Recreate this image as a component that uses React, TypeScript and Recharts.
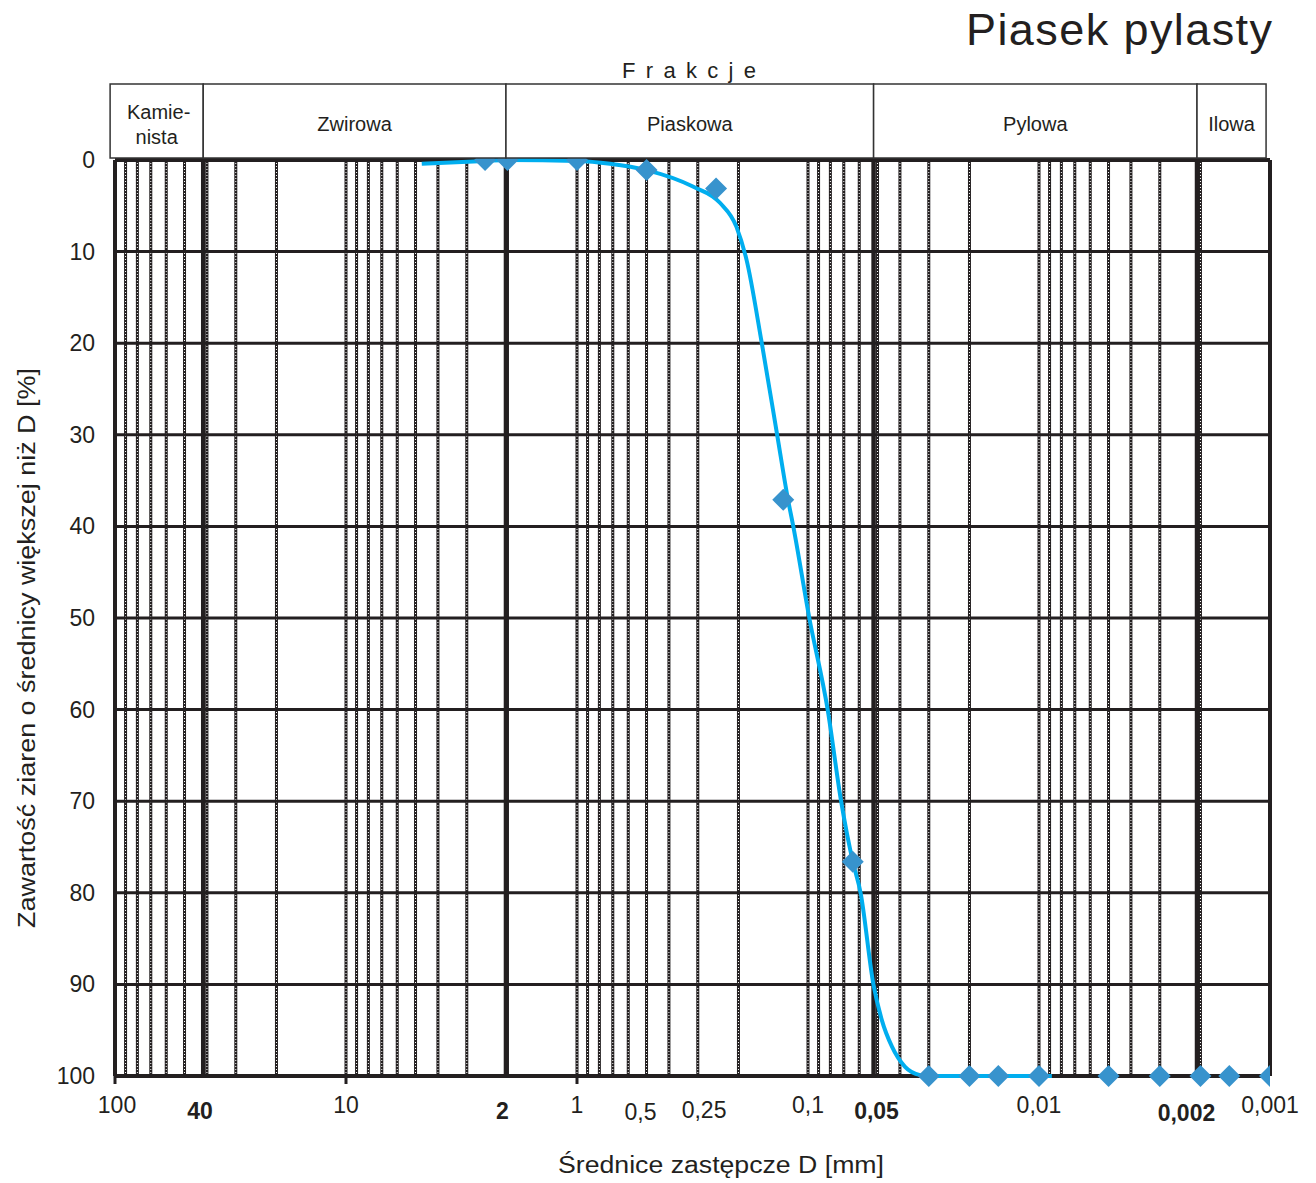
import React from "react";
import {
  ComposedChart,
  Line,
  Scatter,
  XAxis,
  YAxis,
  ReferenceLine,
} from "recharts";

// fitted grading curve (D in mm, % of grains larger than D)
const curveD = [4.7, 2.5, 2, 1, 0.72, 0.5, 0.315, 0.24, 0.204, 0.1845, 0.1585, 0.136, 0.122, 0.1158, 0.0987, 0.0822, 0.0719, 0.064, 0.0592, 0.0521, 0.0479, 0.0433, 0.038, 0.0327, 0.03, 0.0088];
const curveV = [0.4, 0.1, 0, 0.1, 0.4, 1.1, 2.9, 4.7, 7.3, 10.9, 20, 30, 37.1, 40, 50, 60, 70, 76.6, 80, 90, 93.9, 96.8, 99, 99.9, 100, 100];

// measured points (diamonds)
const pointD = [2.5, 2, 1, 0.5, 0.25, 0.128, 0.064, 0.03, 0.02, 0.015, 0.01, 0.005, 0.003, 0.002, 0.0015, 0.001];
const pointV = [0, 0, 0, 1.1, 3.1, 37.1, 76.6, 100, 100, 100, 100, 100, 100, 100, 100, 100];

const xTicks = [100, 40, 10, 2, 1, 0.5, 0.25, 0.1, 0.05, 0.01, 0.002, 0.001];
const xTickLabels = ["100", "40", "10", "2", "1", "0,5", "0,25", "0,1", "0,05", "0,01", "0,002", "0,001"];
const boldTicks = [40, 2, 0.05, 0.002];
const yTicks = [0, 10, 20, 30, 40, 50, 60, 70, 80, 90, 100];

const fractionNames = ["Kamie-|nista", "Zwirowa", "Piaskowa", "Pylowa", "Ilowa"];
const fractionEdges = [105, 41.5, 2.03, 0.052, 0.00207, 0.00104];

const curve = curveD.map((d, i) => ({ d, v: curveV[i] }));
const points = pointD.map((d, i) => ({ d, v: pointV[i] }));

// log grid: 1..9 in every decade between the borders
const gridD: number[] = [];
[-3, -2, -1, 0, 1].forEach((k) => {
  for (let m = 1; m <= 9; m++) {
    const d = +(m * Math.pow(10, k)).toPrecision(6);
    if (d > 0.001 && d < 100) gridD.push(d);
  }
});

const INK = "#231f20";
const FONT = "'Liberation Sans', Arial, Helvetica, sans-serif";
const W = 1300;
const H = 1175;
const PLOT_LEFT = 107;
const PLOT_TOP = 152;
const PLOT_W = 1155;
const PLOT_H = 916;

// label nudges: [dx, baseline offset below the axis]
const tickShift: Record<string, [number, number]> = {
  "100": [2, 37],
  "40": [-7, 43],
  "10": [0, 37],
  "2": [-5, 43],
  "1": [0, 37],
  "0,5": [-6, 44],
  "0,25": [-12, 42],
  "0,1": [0, 37],
  "0,05": [-1, 43],
  "0,01": [0, 37],
  "0,002": [-14, 45],
  "0,001": [0, 37],
};

const xOf = (d: number) => PLOT_LEFT + ((2 - Math.log10(d)) / 5) * PLOT_W;

function XTick({ x, y, payload }: any) {
  const i = xTicks.indexOf(payload.value);
  const label = xTickLabels[i] ?? String(payload.value);
  const bold = boldTicks.includes(payload.value);
  const [dx, dy] = tickShift[label] || [0, 37];
  const decade = [100, 10, 1].includes(payload.value);
  return (
    <g>
      {decade && <line x1={x} x2={x} y1={y} y2={y + 8} stroke={INK} strokeWidth={3} />}
      <text
        x={x + dx}
        y={y + dy}
        textAnchor="middle"
        fontSize={23}
        fontWeight={bold ? "bold" : "normal"}
        fontFamily={FONT}
        fill={INK}
      >
        {label}
      </text>
    </g>
  );
}

function YTick({ x, y, payload }: any) {
  return (
    <text
      x={x - 20}
      y={y}
      textAnchor="end"
      dominantBaseline="central"
      fontSize={23}
      fontFamily={FONT}
      fill={INK}
    >
      {payload.value}
    </text>
  );
}

function Diamond(props: any) {
  const { cx, cy } = props;
  const r = 11;
  return (
    <polygon
      points={`${cx},${cy - r} ${cx + r},${cy} ${cx},${cy + r} ${cx - r},${cy}`}
      fill="#3793cd"
    />
  );
}

function Overlay() {
  const top = 76;
  const bottom = 150;
  return (
    <svg
      width={W}
      height={H}
      style={{ position: "absolute", left: 0, top: 0, pointerEvents: "none", overflow: "visible" }}
      fontFamily={FONT}
    >
      <text x={1264} y={37} textAnchor="end" fontSize={45} fill={INK} textLength={306} lengthAdjust="spacing">
        Piasek pylasty
      </text>
      <text x={614} y={70} fontSize={22} fill={INK} textLength={134} lengthAdjust="spacing">
        F r a k c j e
      </text>
      {fractionNames.map((name, i) => {
        const x1 = xOf(fractionEdges[i]);
        const x2 = xOf(fractionEdges[i + 1]);
        const cx = (x1 + x2) / 2;
        const lines = name.split("|");
        return (
          <g key={name}>
            <rect x={x1} y={top} width={x2 - x1} height={bottom - top} fill="#fff" stroke="#333" strokeWidth={1.5} />
            {lines.length === 1 ? (
              <text x={cx} y={116} textAnchor="middle" dominantBaseline="central" fontSize={20} fill={INK}>
                {name}
              </text>
            ) : (
              lines.map((ln, j) => (
                <text key={ln} x={cx + (j === 0 ? 2 : 0)} y={104 + j * 25} textAnchor="middle" dominantBaseline="central" fontSize={20} fill={INK}>
                  {ln}
                </text>
              ))
            )}
          </g>
        );
      })}
      <text
        x={19}
        y={640}
        transform="rotate(-90 19 640)"
        textAnchor="middle"
        dominantBaseline="central"
        fontSize={23}
        fill={INK}
        textLength={560}
        lengthAdjust="spacingAndGlyphs"
      >
        Zawartość ziaren o średnicy większej niż D [%]
      </text>
      <text x={713} y={1165} textAnchor="middle" fontSize={23} fill={INK} textLength={326} lengthAdjust="spacingAndGlyphs">
        Średnice zastępcze D [mm]
      </text>
    </svg>
  );
}

export default function App() {
  return (
    <div style={{ position: "relative", width: W, height: H, background: "#fff" }}>
      <div style={{ position: "absolute", left: 0, top: 0 }}>
        <ComposedChart
          width={W}
          height={H}
          margin={{ top: PLOT_TOP, right: W - PLOT_LEFT - PLOT_W, bottom: H - PLOT_TOP - PLOT_H - 60, left: PLOT_LEFT - 80 }}
        >
          <XAxis
            dataKey="d"
            type="number"
            scale="log"
            domain={[0.001, 100]}
            reversed
            allowDataOverflow
            ticks={xTicks}
            interval={0}
            axisLine={false}
            tickLine={false}
            tickSize={0}
            tickMargin={0}
            height={60}
            tick={<XTick />}
          />
          <YAxis
            dataKey="v"
            type="number"
            domain={[0, 100]}
            reversed
            ticks={yTicks}
            interval={0}
            axisLine={false}
            tickLine={false}
            tickSize={0}
            tickMargin={0}
            width={80}
            tick={<YTick />}
          />
          {gridD.map((d) => (
            <ReferenceLine key={"gb" + d} x={d} stroke={INK} strokeWidth={3} />
          ))}
          {gridD.map((d) => (
            <ReferenceLine key={"gw" + d} x={d} stroke="#ffffff" strokeWidth={1} strokeDasharray="1 2" />
          ))}
          {yTicks.map((v) => (
            <ReferenceLine key={"h" + v} y={v} stroke={INK} strokeWidth={v === 0 || v === 100 ? 4 : 3} />
          ))}
          {fractionEdges.slice(1, -1).map((d) => (
            <ReferenceLine key={"f" + d} x={d} stroke={INK} strokeWidth={4.5} />
          ))}
          <ReferenceLine x={100} stroke={INK} strokeWidth={4} />
          <ReferenceLine x={0.001} stroke={INK} strokeWidth={4} />
          <Line
            data={curve}
            dataKey="v"
            type="monotone"
            stroke="#00aeef"
            strokeWidth={4}
            dot={false}
            activeDot={false}
            isAnimationActive={false}
          />
          <Scatter data={points} dataKey="v" shape={<Diamond />} isAnimationActive={false} />
        </ComposedChart>
      </div>
      <Overlay />
    </div>
  );
}
